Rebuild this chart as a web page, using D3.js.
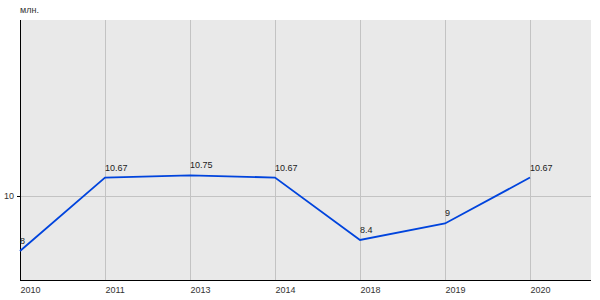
<!DOCTYPE html>
<html>
<head>
<meta charset="utf-8">
<script src="https://cdn.jsdelivr.net/npm/d3@7"></script>
<style>
  body { margin: 0; background: #fff; }
  svg text { font-family: "Liberation Sans", Arial, sans-serif; }
</style>
</head>
<body>
<svg id="chart" width="600" height="300"></svg>
<script>
const years = ['2010', '2011', '2013', '2014', '2018', '2019', '2020']
const values = [8, 10.67, 10.75, 10.67, 8.4, 9, 10.67]
const yTicks = [10]
const unitLabel = 'млн.'

const margin = { top: 20, right: 9, bottom: 20, left: 20 }
const width = 600 - margin.left - margin.right
const height = 300 - margin.top - margin.bottom

const svg = d3.select('#chart')
    .append('g')
    .attr('transform', 'translate(' + margin.left + ',' + margin.top + ')')

// last category sits 61px before the right edge
const x = d3.scalePoint()
    .domain(years)
    .range([0, 510])

const y = d3.scaleLinear()
    .domain([6.945, 16.4])
    .range([height, 0])

svg.append('rect')
    .attr('width', width)
    .attr('height', height)
    .attr('fill', '#e9e9e9')

// GRID
svg.selectAll('.vgrid')
    .data(years.slice(1))
    .enter()
    .append('line')
    .attr('x1', d => x(d) + 0.5)
    .attr('x2', d => x(d) + 0.5)
    .attr('y1', 0)
    .attr('y2', height)
    .attr('stroke', '#c3c3c3')

svg.selectAll('.hgrid')
    .data(yTicks)
    .enter()
    .append('line')
    .attr('x1', 0)
    .attr('x2', width)
    .attr('y1', d => Math.round(y(d)) + 0.5)
    .attr('y2', d => Math.round(y(d)) + 0.5)
    .attr('stroke', '#c3c3c3')

// AXES
const xAxis = d3.axisBottom(x).tickSize(0).tickPadding(0)
const gx = svg.append('g')
    .attr('transform', 'translate(0,' + height + ')')
    .call(xAxis)
gx.select('.domain').remove()
gx.selectAll('text')
    .attr('text-anchor', 'start')
    .attr('dy', '13px')
    .attr('fill', '#333')
    .attr('font-size', '9px')

svg.append('line')
    .attr('x1', 0).attr('x2', width)
    .attr('y1', height + 0.5).attr('y2', height + 0.5)
    .attr('stroke', '#000')

const yAxis = d3.axisLeft(y).tickValues(yTicks).tickSize(3).tickPadding(3)
const gy = svg.append('g').call(yAxis)
gy.select('.domain').remove()
gy.selectAll('line').attr('stroke', '#000')
gy.selectAll('text')
    .attr('fill', '#333')
    .attr('font-size', '9px')

svg.append('line')
    .attr('x1', 0.5).attr('x2', 0.5)
    .attr('y1', 0).attr('y2', height)
    .attr('stroke', '#000')

svg.append('text')
    .attr('x', 0)
    .attr('y', -7)
    .attr('fill', '#333')
    .attr('font-size', '9px')
    .text(unitLabel)

// LINE
const line = d3.line()
    .x((d, i) => x(years[i]))
    .y(d => y(d))

svg.append('path')
    .datum(values)
    .attr('fill', 'none')
    .attr('stroke', '#0044dd')
    .attr('stroke-width', 1.8)
    .attr('d', line)

svg.selectAll('.lbl')
    .data(values)
    .enter()
    .append('text')
    .attr('x', (d, i) => x(years[i]))
    .attr('y', d => y(d) - 7)
    .attr('fill', '#222')
    .attr('font-size', '9px')
    .text(d => d)
</script>
</body>
</html>
